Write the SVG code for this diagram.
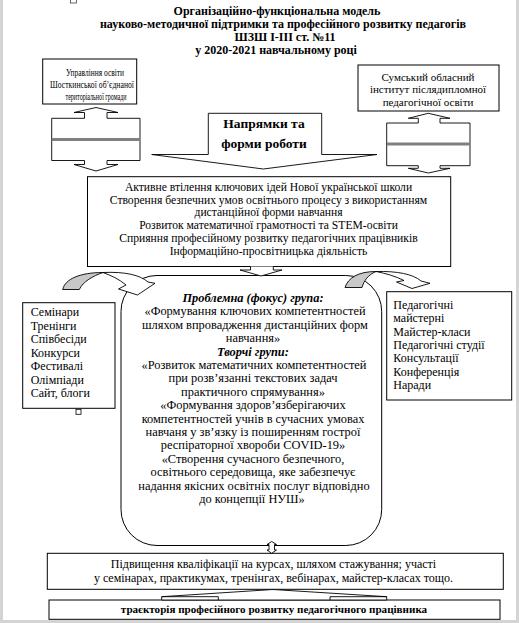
<svg xmlns="http://www.w3.org/2000/svg" width="519" height="623" viewBox="0 0 519 623" font-family="'Liberation Serif','Times New Roman',serif">
<style>
.t{font-family:"Liberation Serif","Times New Roman",serif;fill:#000}
.b{font-weight:bold}
.m{text-anchor:middle}
.box{fill:#fff;stroke:#000;stroke-width:1}
.ar{fill:#fff;stroke:#000;stroke-width:0.9;stroke-linejoin:miter}
.gr{fill:#c8c8c8;stroke:#000;stroke-width:0.9}
</style>
<rect x="0" y="0" width="519" height="623" fill="#d4d4d4"/>
<rect x="3" y="0" width="513" height="620" fill="#fff"/>
<rect x="70.5" y="-3" width="6" height="6" fill="#fff" stroke="#444" stroke-width="0.8"/>

<g id="title" class="t b m" font-size="12">
<text x="277" y="15">Організаційно-функціональна модель</text>
<text x="283" y="28">науково-методичної підтримки та професійного розвитку педагогів</text>
<text x="285" y="41">ШЗШ І-ІІІ ст. №11</text>
<text x="276" y="54">у 2020-2021 навчальному році</text>
</g>

<g id="node-upravlinnia">
<rect class="box" x="42.7" y="59" width="94" height="45"/>
<g class="t m" font-size="11">
<text x="95" y="76" textLength="58" lengthAdjust="spacingAndGlyphs">Управління освіти</text>
<text x="92" y="87.5" textLength="84" lengthAdjust="spacingAndGlyphs">Шосткинської обʼєднаної</text>
<text x="96" y="99.5" textLength="61" lengthAdjust="spacingAndGlyphs">територіальної громади</text>
</g>
</g>

<g id="node-sumskyi">
<rect class="box" x="358" y="65" width="141" height="46"/>
<g class="t m" font-size="11">
<text x="428" y="81">Сумський обласний</text>
<text x="428" y="93">інститут післядипломної</text>
<text x="428" y="105.5">педагогічної освіти</text>
</g>
</g>

<g id="node-napriamky">
<path class="ar" d="M208.3,113.3 H321.7 V154.5 H377 L263.3,169 L151.7,154.5 H208.3 Z"/>
<g class="t b m" font-size="13.5">
<text x="264" y="128">Напрямки та</text>
<text x="264" y="148">форми роботи</text>
</g>
</g>

<g id="node-napriamy-text">
<rect class="box" x="87.5" y="176.7" width="363.2" height="89.8"/>
<g class="t m" font-size="11.6">
<text x="268.5" y="191">Активне втілення ключових ідей Нової української школи</text>
<text x="268.5" y="203.7">Створення безпечних умов освітнього процесу з використанням</text>
<text x="268.5" y="216.4">дистанційної форми навчання</text>
<text x="268.5" y="229.1">Розвиток математичної грамотності та STEM-освіти</text>
<text x="268.5" y="241.8">Сприяння професійному розвитку педагогічних працівників</text>
<text x="268.5" y="254.5">Інформаційно-просвітницька діяльність</text>
</g>
</g>

<g id="node-groups">
<rect class="box" x="121" y="275.5" width="260.7" height="270" rx="36" ry="36"/>
<g class="t m" font-size="12.4">
<text x="253" y="302" font-weight="bold" font-style="italic">Проблемна (фокус) група:</text>
<text x="255" y="315.4">«Формування ключових компетентностей</text>
<text x="255" y="328.8">шляхом впровадження дистанційних форм</text>
<text x="253" y="342.2">навчання»</text>
<text x="253" y="355.6" font-weight="bold" font-style="italic">Творчі групи:</text>
<text x="254" y="369">«Розвиток математичних компетентностей</text>
<text x="253" y="382.4">при розвʼязанні текстових задач</text>
<text x="253" y="395.8">практичного спрямування»</text>
<text x="253" y="409.2">«Формування здоровʼязберігаючих</text>
<text x="253" y="422.6">компетентностей учнів в сучасних умовах</text>
<text x="253" y="436">навчаня у звʼязку із поширенням гострої</text>
<text x="253" y="449.4">респіраторної хвороби COVID-19»</text>
<text x="253" y="462.8">«Створення сучасного безпечного,</text>
<text x="253" y="476.2">освітнього середовища, яке забезпечує</text>
<text x="254" y="489.6">надання якісних освітніх послуг відповідно</text>
<text x="252" y="503">до концепції НУШ»</text>
</g>
</g>

<g id="node-forms-left">
<rect class="box" x="22.7" y="302.7" width="92.3" height="105.6"/>
<g class="t" font-size="12">
<text x="30.7" y="316.3">Семінари</text>
<text x="30.7" y="329.8">Тренінги</text>
<text x="30.7" y="343.3">Співбесіди</text>
<text x="30.7" y="356.8">Конкурси</text>
<text x="30.7" y="370.3">Фестивалі</text>
<text x="30.7" y="383.8">Олімпіади</text>
<text x="30.7" y="397.3">Сайт, блоги</text>
</g>
<rect x="76" y="409.3" width="5" height="5" fill="#fff" stroke="#000" stroke-width="0.8"/>
</g>

<g id="node-forms-right">
<rect class="box" x="386.7" y="291.7" width="125" height="108.3"/>
<g class="t" font-size="12">
<text x="393.3" y="309">Педагогічні</text>
<text x="393.3" y="322.3">майстерні</text>
<text x="393.3" y="335.6">Майстер-класи</text>
<text x="393.3" y="349">Педагогічні студії</text>
<text x="393.3" y="362.3">Консультації</text>
<text x="393.3" y="375.6">Конференція</text>
<text x="393.3" y="389">Наради</text>
</g>
</g>

<g id="node-kvalifikatsiia">
<rect class="box" x="47.3" y="553.3" width="456" height="36"/>
<g class="t m" font-size="12">
<text x="273.5" y="568">Підвищення кваліфікації на курсах, шляхом стажування; участі</text>
<text x="273.5" y="581.5">у семінарах, практикумах, тренінгах, вебінарах, майстер-класах тощо.</text>
</g>
</g>

<g id="node-traiektoriia">
<rect class="box" x="49" y="600" width="451" height="19.3"/>
<text class="t b m" font-size="11.1" x="274" y="612.8">траєкторія професійного розвитку педагогічного працівника</text>
</g>

<g id="connectors">
<path class="ar" d="M51.7,139.5 V118.3 H84.5 V112.5 H74 L96,107.5 L118,112.5 H107 V118.3 H140 V139.5 Z"/>
<path class="ar" d="M51.7,139.5 V160.5 H84.5 V164.5 H74 L96,171 L118,164.5 H107 V160.5 H140 V139.5 Z"/>
<rect x="51.7" y="138" width="88.3" height="3" fill="#808080"/>
<path class="ar" d="M386.7,144 V123 H418.3 V118.3 H408.3 L428.3,113.3 L450,118.3 H440 V123 H470 V144 Z"/>
<path class="ar" d="M386.7,144 V165.7 H418.3 V168.3 H408.3 L428.3,173 L450,168.3 H440 V165.7 H470 V144 Z"/>
<rect x="386.7" y="142.5" width="83.3" height="3" fill="#808080"/>
<path class="ar" d="M250.5,266.5 V270 H240 L261,276 L282,270 H273.3 V266.5"/>
<path class="ar" d="M103,272.5 C125,271.5 140,275 148,282 L155,283.3 L137.5,295 L118.5,289 L126,285 C119,279 111,275.5 103,272.5 Z"/>
<path class="gr" d="M62.7,289.5 C65,279 80,272.5 103,272.5 C93,276 83,281.5 79.3,289.5 Z"/>
<path class="ar" d="M376,271.5 C397,271 413,274 421,281 L430,283.3 L412,288.5 L396.5,282 L404,280.5 C395,276 386,273.5 376,271.5 Z"/>
<path class="gr" d="M345,287.5 C348,278 358,271.5 376,271.5 C368,275 364,280.5 362,287.5 Z"/>
<path class="ar" d="M271.7,541.5 L276.5,544.5 H274.5 V550 H276.5 L271.7,553.3 L267,550 H269 V544.5 H267 Z"/>
<path class="ar" d="M161.7,600 V596.7 L273,589.5 L386.7,596.7 V600 Z"/>
<path fill="none" stroke="#000" stroke-width="0.9" d="M161.7,596.7 H218.3 V600 M330,600 V596.7 H386.7"/>
</g>
</svg>
